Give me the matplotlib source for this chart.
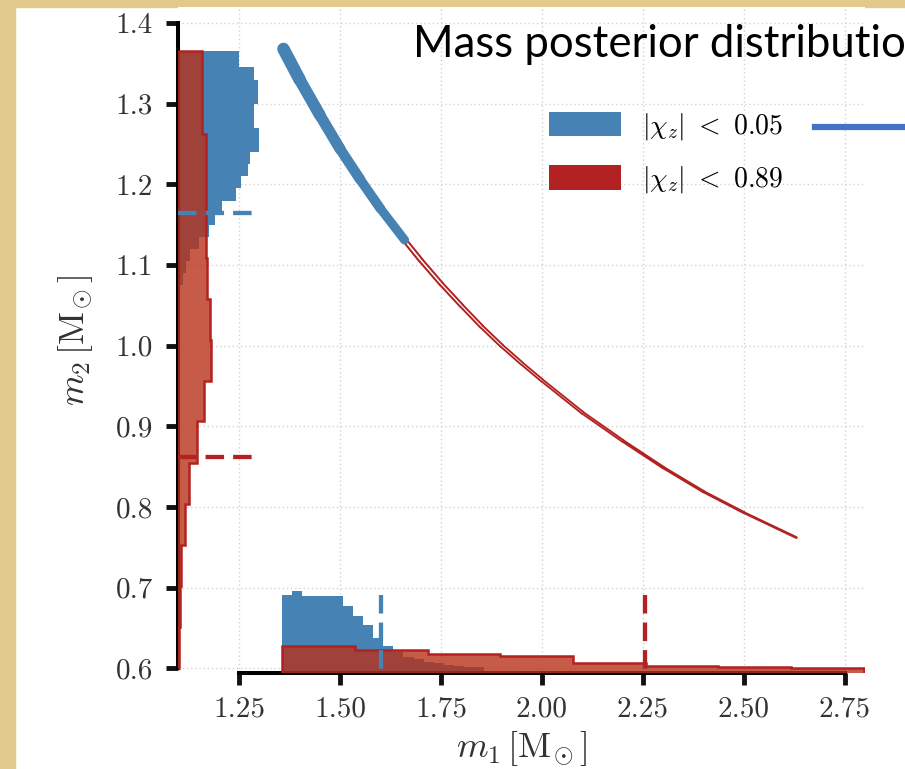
import matplotlib
matplotlib.use('Agg')
import numpy as np
import matplotlib.pyplot as plt
from matplotlib.patches import Patch, Rectangle
from matplotlib.lines import Line2D
from matplotlib.collections import LineCollection

plt.rcParams['font.family'] = 'serif'
plt.rcParams['font.serif'] = ['cmr10']
plt.rcParams['mathtext.fontset'] = 'cm'
plt.rcParams['axes.unicode_minus'] = False

# m1-m2 curve (fixed chirp mass)
curve_m1 = [1.36, 1.40, 1.45, 1.50, 1.55, 1.60, 1.65, 1.70, 1.75, 1.80, 1.85,
            1.90, 1.95, 2.00, 2.10, 2.20, 2.30, 2.40, 2.50, 2.63]
curve_m2 = [1.368, 1.330, 1.286, 1.244, 1.206, 1.170, 1.137, 1.106, 1.077,
            1.050, 1.024, 1.000, 0.978, 0.957, 0.917, 0.882, 0.849, 0.819,
            0.793, 0.762]
blue_curve_m1 = [1.36, 1.40, 1.45, 1.50, 1.55, 1.60, 1.66]
blue_curve_m2 = [1.368, 1.330, 1.286, 1.244, 1.206, 1.170, 1.131]

# m2 marginals (left side): bin edges in m2, bar ends in m1
blue_m2_edges = [1.045, 1.060, 1.075, 1.090, 1.105, 1.120, 1.135, 1.150,
                 1.165, 1.180, 1.195, 1.210, 1.225, 1.240, 1.255, 1.270,
                 1.285, 1.300, 1.315, 1.330, 1.345, 1.365]
blue_m2_ends = [1.102, 1.105, 1.110, 1.118, 1.128, 1.150, 1.175, 1.190,
                1.209, 1.243, 1.256, 1.271, 1.278, 1.300, 1.300, 1.286,
                1.286, 1.296, 1.296, 1.286, 1.249]
red_m2_edges = [0.600, 0.651, 0.702, 0.753, 0.804, 0.855, 0.906, 0.956,
                1.007, 1.058, 1.109, 1.160, 1.211, 1.262, 1.313, 1.365]
red_m2_ends = [1.101, 1.103, 1.107, 1.117, 1.127, 1.145, 1.162, 1.180,
               1.177, 1.170, 1.169, 1.169, 1.169, 1.159, 1.159]

# m1 marginals (bottom): bin edges in m1, bar tops in m2
blue_m1_edges = [1.357, 1.382, 1.407, 1.432, 1.457, 1.482, 1.507, 1.532,
                 1.557, 1.582, 1.607, 1.632, 1.657, 1.682, 1.707, 1.732,
                 1.757, 1.782, 1.807, 1.832, 1.857]
blue_m1_tops = [0.691, 0.696, 0.690, 0.690, 0.690, 0.690, 0.677, 0.665,
                0.653, 0.638, 0.627, 0.620, 0.614, 0.611, 0.608, 0.606,
                0.604, 0.603, 0.602, 0.601]
red_m1_edges = [1.357, 1.537, 1.717, 1.897, 2.077, 2.257, 2.437, 2.617, 2.797]
red_m1_tops = [0.627, 0.623, 0.618, 0.615, 0.607, 0.6025, 0.601, 0.6008]

# 90% bounds
blue_m1_bound = 1.602
red_m1_bound = 2.255
blue_m2_bound = 1.165
red_m2_bound = 0.862

legend_labels = [r'$|\chi_z|\ <\ 0.05$', r'$|\chi_z|\ <\ 0.89$']
x_ticks = [1.25, 1.50, 1.75, 2.00, 2.25, 2.50, 2.75]
x_tick_labels = ['1.25', '1.50', '1.75', '2.00', '2.25', '2.50', '2.75']
y_ticks = [0.6, 0.7, 0.8, 0.9, 1.0, 1.1, 1.2, 1.3, 1.4]
y_tick_labels = ['0.6', '0.7', '0.8', '0.9', '1.0', '1.1', '1.2', '1.3', '1.4']

xmin, xmax = 1.10, 2.80
ymin, ymax = 0.594, 1.420

blue = '#4682b4'
red_edge = '#b22222'
red_fill = (0.72, 0.2, 0.1)

fig = plt.figure(figsize=(9.05, 7.69), dpi=100)
fig.patch.set_facecolor('white')
# slide background strips
fig.add_artist(Rectangle((0, 0), 15 / 905, 1, transform=fig.transFigure,
                         color='#e2c98c', zorder=-5))
fig.add_artist(Rectangle((0, 1 - 7 / 769), 1, 7 / 769, transform=fig.transFigure,
                         color='#e2c98c', zorder=-5))

ax = fig.add_axes([0.1972, 0.1248, 0.7586, 0.8661])
ax.set_xlim(xmin, xmax)
ax.set_ylim(ymin, ymax)

# marginals
ax.stairs(blue_m2_ends, blue_m2_edges, orientation='horizontal', baseline=xmin,
          fill=True, color=blue, zorder=2)
ax.stairs(blue_m1_tops, blue_m1_edges, baseline=ymin, fill=True, color=blue,
          zorder=2)
ax.stairs(red_m2_ends, red_m2_edges, orientation='horizontal', baseline=xmin,
          fill=True, color=red_fill, alpha=0.8, lw=0, zorder=3)
ax.stairs(red_m1_tops, red_m1_edges, baseline=ymin, fill=True, color=red_fill,
          alpha=0.8, lw=0, zorder=3)
ax.stairs(red_m2_ends, red_m2_edges, orientation='horizontal', baseline=xmin,
          color=red_edge, lw=1.8, zorder=3.5)
ax.stairs(red_m1_tops, red_m1_edges, baseline=ymin, color=red_edge, lw=1.8,
          zorder=3.5)

# bound markers
dash = (0, (4.3, 2.1))
ax.plot([xmin, 1.295], [blue_m2_bound] * 2, color=blue, lw=3.1, ls=dash, zorder=5)
ax.plot([xmin, 1.295], [red_m2_bound] * 2, color=red_edge, lw=3.1, ls=dash, zorder=5)
ax.plot([blue_m1_bound] * 2, [0.691, ymin], color=blue, lw=3.1, ls=dash, zorder=5)
ax.plot([red_m1_bound] * 2, [0.691, ymin], color=red_edge, lw=3.1, ls=dash, zorder=5)

# chirp-mass curve: red band with white core, blue band on top
pts = np.column_stack([curve_m1, curve_m2])
segs = np.stack([pts[:-1], pts[1:]], axis=1)
n = len(segs)
ax.add_collection(LineCollection(segs, colors=red_edge,
                                 linewidths=np.linspace(5.2, 2.0, n),
                                 capstyle='round', zorder=4))
white_w = np.clip(np.linspace(2.0, -0.4, n), 0, None)
ax.add_collection(LineCollection(segs, colors='white', linewidths=white_w,
                                 capstyle='butt', zorder=4.1))
bpts = np.column_stack([blue_curve_m1, blue_curve_m2])
bsegs = np.stack([bpts[:-1], bpts[1:]], axis=1)
ax.add_collection(LineCollection(bsegs, colors=blue,
                                 linewidths=np.linspace(9.0, 6.5, len(bsegs)),
                                 capstyle='round', zorder=4.2))

# axes styling
ax.grid(True, color='#d2d2d2', linestyle=(0, (1, 2)), lw=1.0)
ax.set_axisbelow(True)
for s in ['top', 'right']:
    ax.spines[s].set_visible(False)
ax.spines['left'].set_bounds(0.6, 1.4)
ax.spines['bottom'].set_bounds(1.25, 2.75)
for s in ['left', 'bottom']:
    ax.spines[s].set_linewidth(2.9)
ax.set_xticks(x_ticks, x_tick_labels)
ax.set_yticks(y_ticks, y_tick_labels)
ax.tick_params(direction='out', length=8.5, width=3.5, labelsize=21,
               colors='#111111', labelcolor='#333333')
ax.tick_params(axis='y', pad=10)
ax.tick_params(axis='x', pad=8)
ax.set_xlabel(r'$m_1\,[\mathrm{M}_{\!\odot}]$', fontsize=26, color='#333333',
              labelpad=5)
ax.set_ylabel(r'$m_2\,[\mathrm{M}_{\!\odot}]$', fontsize=26, color='#333333',
              labelpad=15)

handles = [Patch(facecolor=blue), Patch(facecolor=red_edge)]
ax.legend(handles, legend_labels, loc='upper left',
          bbox_to_anchor=(0.54, (673 - 111) / 666), frameon=False,
          fontsize=20, borderpad=0, borderaxespad=0, handlelength=2.6,
          handleheight=1.0, handletextpad=0.75, labelspacing=0.8)

# slide overlay (runs past the right edge, as on the slide)
fig.text(413 / 905, 1 - 57 / 769, 'Mass posterior distribution',
         family='Lato', fontsize=31.5, va='baseline', ha='left', color='black')
fig.add_artist(Line2D([815 / 905, 1.0], [1 - 127 / 769] * 2,
                      transform=fig.transFigure, color='#4472c4', lw=4.5))

fig.savefig('out.png', dpi=100)
